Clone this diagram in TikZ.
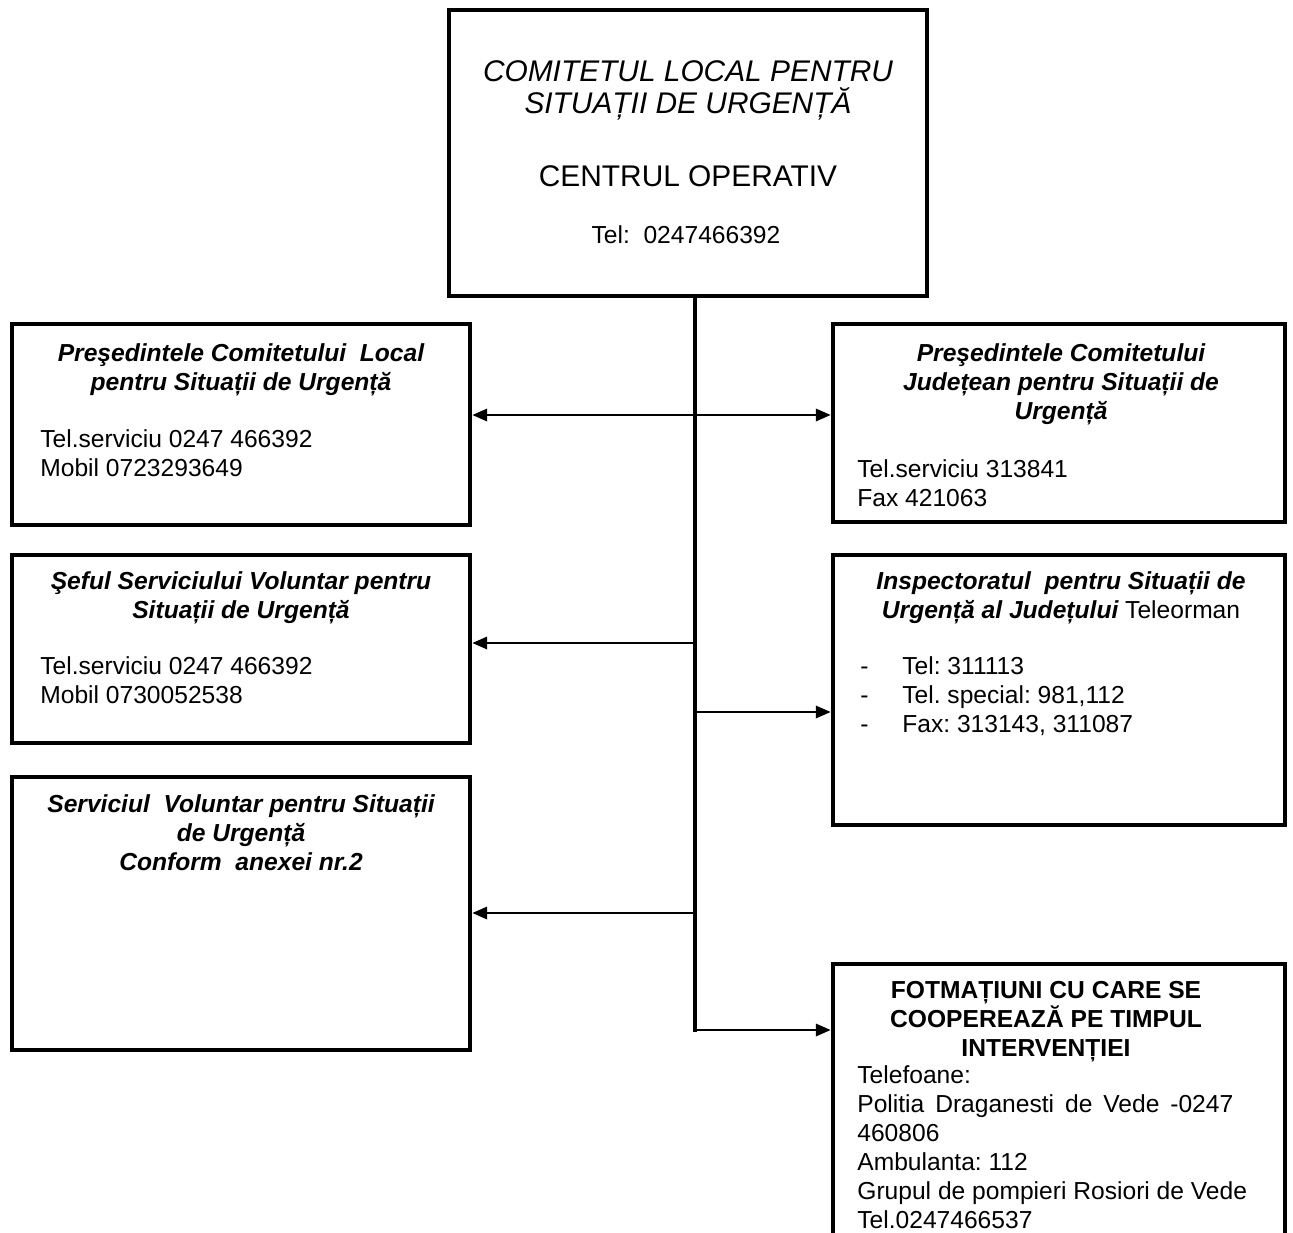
\documentclass[tikz,border=0pt]{standalone}
\usepackage{fontspec}
\setmainfont{Liberation Sans}
\usetikzlibrary{arrows.meta}
\begin{document}
\frenchspacing
\begin{tikzpicture}[
  >={Triangle[length=8.5pt,width=7pt]},
  box/.style={draw,line width=2.6pt,inner sep=0pt},
  head/.style={inner sep=0pt,anchor=north,align=center,font=\fontsize{14pt}{16.5pt}\selectfont\bfseries\itshape},
  body/.style={inner sep=0pt,anchor=north west,align=left,font=\fontsize{14pt}{16.5pt}\selectfont},
  big/.style={inner sep=0pt,anchor=north,align=center,font=\fontsize{17pt}{18.2pt}\selectfont},
  trunk/.style={line width=2.2pt},
  link/.style={line width=1.4pt,->}
]
\useasboundingbox (0,0) rectangle (25.86,-24.64);
\clip (0,0) rectangle (25.86,-24.64);
\node[box,minimum width=9.56cm,minimum height=5.72cm] (cls) at (13.76,-3.06) {};
\node[box,minimum width=9.16cm,minimum height=4.02cm] (pres) at (4.82,-8.49) {};
\node[box,minimum width=9.04cm,minimum height=3.96cm] (presj) at (21.18,-8.46) {};
\node[box,minimum width=9.16cm,minimum height=3.76cm] (sef) at (4.82,-12.98) {};
\node[box,minimum width=9.04cm,minimum height=5.40cm] (isu) at (21.18,-13.80) {};
\node[box,minimum width=9.16cm,minimum height=5.46cm] (svsu) at (4.82,-18.27) {};
\node[box,minimum width=9.04cm,minimum height=6.22cm] (form) at (21.18,-22.39) {};

\node[big,font=\fontsize{17pt}{18.2pt}\selectfont\itshape] (clst) at (13.76,-1.2) {COMITETUL LOCAL PENTRU\\SITUAȚII DE URGENȚĂ};
\node[big] (co) at (13.76,-3.3) {CENTRUL OPERATIV};
\node[big,font=\fontsize{14pt}{16.5pt}\selectfont] (cotel) at (13.72,-4.5) {Tel:\ \ 0247466392};

\node[head] (prest) at (4.82,-6.86) {Preşedintele Comitetului\ \ Local\\pentru Situații de Urgență};
\node[body] (presb) at (0.8,-8.58) {Tel.serviciu 0247 466392\\Mobil 0723293649};

\node[head] (presjt) at (21.22,-6.86) {Preşedintele Comitetului\\Județean pentru Situații de\\Urgență};
\node[body] (presjb) at (17.14,-9.18) {Tel.serviciu 313841\\Fax 421063};

\node[head] (seft) at (4.82,-11.42) {Şeful Serviciului Voluntar pentru\\Situații de Urgență};
\node[body] (sefb) at (0.8,-13.12) {Tel.serviciu 0247 466392\\Mobil 0730052538};

\node[head] (isut) at (21.22,-11.42) {Inspectoratul\ \ pentru Situații de\\Urgență al Județului {\mdseries\upshape Teleorman}};
\node[body] (isub) at (17.2,-13.12) {\makebox[0.84cm][l]{-}Tel: 311113\\\makebox[0.84cm][l]{-}Tel. special: 981,112\\\makebox[0.84cm][l]{-}Fax: 313143, 311087};

\node[head] (svsut) at (4.82,-15.88) {Serviciul\ \ Voluntar pentru Situații\\de Urgență\\Conform\ \ anexei nr.2};

\node[head,font=\fontsize{14pt}{16.5pt}\selectfont\bfseries] (formt) at (20.92,-19.62) {FOTMAȚIUNI CU CARE SE\\COOPEREAZĂ PE TIMPUL\\INTERVENȚIEI};
\node[body] (formb) at (17.14,-21.3) {Telefoane:\\\makebox[7.52cm][s]{Politia Draganesti de Vede -0247}\\460806\\Ambulanta: 112\\Grupul de pompieri Rosiori de Vede\\Tel.0247466537};

\coordinate (a1) at (13.9,-8.3);
\coordinate (j1) at (13.9,-12.86);
\coordinate (j2) at (13.9,-14.24);
\coordinate (j3) at (13.9,-18.26);
\coordinate (j4) at (13.9,-20.6);
\draw[line width=1.4pt,<->] (pres.east |- a1) -- (presj.west |- a1);
\draw[link] (j1) -- (sef.east |- j1);
\draw[link] (j2) -- (isu.west |- j2);
\draw[link] (j3) -- (svsu.east |- j3);
\draw[link] (j4) -- (form.west |- j4);
\draw[trunk] (cls.south -| j4) -- ([yshift=-1.1pt]j4);
\end{tikzpicture}
\end{document}
